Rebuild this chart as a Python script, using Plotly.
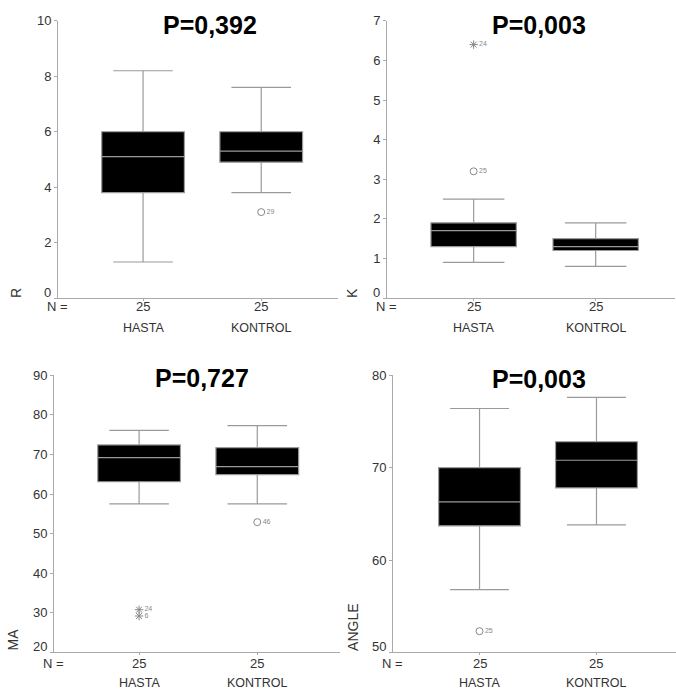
import plotly.graph_objects as go

W, H = 676, 695

groups = ["HASTA", "KONTROL"]
n_counts = [25, 25]

# R
r_lo = [1.3, 3.8]
r_q1 = [3.8, 4.9]
r_med = [5.1, 5.3]
r_q3 = [6.0, 6.0]
r_hi = [8.2, 7.6]
r_out_g = [1]
r_out_y = [3.1]
r_out_lab = ["29"]

# K
k_lo = [0.9, 0.8]
k_q1 = [1.3, 1.2]
k_med = [1.7, 1.3]
k_q3 = [1.9, 1.5]
k_hi = [2.5, 1.9]
k_out_g = [0, 0]
k_out_y = [3.2, 6.4]
k_out_lab = ["25", "24"]

# MA
ma_lo = [57.5, 57.5]
ma_q1 = [63.1, 64.9]
ma_med = [69.2, 66.9]
ma_q3 = [72.4, 71.7]
ma_hi = [76.1, 77.3]
ma_out_g = [0, 0, 1]
ma_out_y = [30.8, 29.2, 52.9]
ma_out_lab = ["24", "6", "46"]

# ANGLE
an_lo = [56.8, 63.8]
an_q1 = [63.7, 67.8]
an_med = [66.3, 70.8]
an_q3 = [70.0, 72.8]
an_hi = [76.4, 77.6]
an_out_g = [0]
an_out_y = [52.3]
an_out_lab = ["25"]

titles = ["P=0,392", "P=0,003", "P=0,727", "P=0,003"]
ylabels = ["R", "K", "MA", "ANGLE"]

# y-axis tick values for each panel
r_ticks = [0, 2, 4, 6, 8, 10]
k_ticks = [0, 1, 2, 3, 4, 5, 6, 7]
ma_ticks = [20, 30, 40, 50, 60, 70, 80, 90]
an_ticks = [50, 60, 70, 80]

panels = [
    (r_lo, r_q1, r_med, r_q3, r_hi, r_out_g, r_out_y, r_out_lab, r_ticks),
    (k_lo, k_q1, k_med, k_q3, k_hi, k_out_g, k_out_y, k_out_lab, k_ticks),
    (ma_lo, ma_q1, ma_med, ma_q3, ma_hi, ma_out_g, ma_out_y, ma_out_lab, ma_ticks),
    (an_lo, an_q1, an_med, an_q3, an_hi, an_out_g, an_out_y, an_out_lab, an_ticks),
]

# layout geometry (pixels): left, right, top, bottom of each plot area
geo = [(58, 338, 14, 294), (387, 675, 14, 294), (54, 340, 372, 652), (393, 676, 372, 652)]
xranges = [(-0.72, 1.65), (-0.71, 1.65), (-0.72, 1.70), (-0.74, 1.68)]
title_pos = [(210, 18), (539, 18), (202, 375), (539, 376)]
ylab_pos = [(16, 296), (352, 296), (13, 652), (353, 652)]
nlab_pos = [(57, 303), (386, 303), (53, 663), (392, 663)]
n_y = [303, 303, 663, 663]
cat_y = [324, 324, 683, 683]
out_symbols = [["circle-open"], ["circle-open", "asterisk-open"],
               ["asterisk-open", "asterisk-open", "circle-open"], ["circle-open"]]

FONT = "Liberation Sans, Arial, sans-serif"
GRAY = "#9a9a9a"
TXT = "#333333"

def px_x(v):
    return v / W

def px_y(v):
    return 1 - v / H

fig = go.Figure()
annotations = []
xs = [0, 1]

for i, (lo, q1, med, q3, hi, og, oy, olab, yt) in enumerate(panels):
    ax = "" if i == 0 else str(i + 1)
    xref = "x" + ax
    yref = "y" + ax
    fig.add_trace(go.Box(
        x=xs, lowerfence=lo, q1=q1, median=med, q3=q3, upperfence=hi,
        xaxis=xref, yaxis=yref, width=0.70, whiskerwidth=0.72,
        fillcolor="black", line=dict(color=GRAY, width=1.2),
        showlegend=False, hoverinfo="skip",
    ))
    fig.add_trace(go.Scatter(
        x=og, y=oy, mode="markers+text", text=olab, textposition="middle right",
        textfont=dict(size=7, color="#888", family=FONT),
        marker=dict(symbol=out_symbols[i], size=7, color="#888", line=dict(width=1, color="#888")),
        xaxis=xref, yaxis=yref, showlegend=False, hoverinfo="skip", cliponaxis=False,
    ))
    l, r, t, b = geo[i]
    xa = dict(domain=[px_x(l), px_x(r)], range=list(xranges[i]), tickvals=xs,
              ticktext=["", ""], showgrid=False, zeroline=False,
              showline=True, linecolor="#aaaaaa", linewidth=1, ticks="outside",
              ticklen=2, tickcolor="#aaaaaa", anchor=yref, fixedrange=True)
    # bottom tick label is drawn slightly raised (as in the original), so blank it here
    ttext = [""] + [str(v) for v in yt[1:]]
    ya = dict(domain=[px_y(b), px_y(t)], range=[yt[0], yt[-1]], tickvals=yt, ticktext=ttext,
              showgrid=False, zeroline=False, showline=True, linecolor="#aaaaaa",
              linewidth=1, ticks="outside", ticklen=3, tickcolor="#aaaaaa",
              tickfont=dict(size=13, color=TXT, family=FONT), anchor=xref,
              fixedrange=True)
    fig.layout["xaxis" + ax] = xa
    fig.layout["yaxis" + ax] = ya

    annotations.append(dict(text=str(yt[0]), x=px_x(l - 5), y=px_y(b - 6), xref="paper",
                            yref="paper", showarrow=False, xanchor="right", yanchor="middle",
                            font=dict(size=13, color=TXT, family=FONT)))

    tx, ty = title_pos[i]
    annotations.append(dict(text="<b>" + titles[i] + "</b>", x=px_x(tx), y=px_y(ty),
                            xref="paper", yref="paper", showarrow=False,
                            font=dict(size=25, color="black", family=FONT),
                            xanchor="center", yanchor="middle"))
    lx, ly = ylab_pos[i]
    annotations.append(dict(text=ylabels[i], x=px_x(lx), y=px_y(ly), xref="paper", yref="paper",
                            showarrow=False, textangle=-90,
                            font=dict(size=14, color=TXT, family=FONT),
                            xanchor="center", yanchor="bottom"))
    nx, ny = nlab_pos[i]
    annotations.append(dict(text="N =", x=px_x(nx), y=px_y(ny), xref="paper", yref="paper",
                            showarrow=False, font=dict(size=13, color=TXT, family=FONT),
                            xanchor="center", yanchor="middle"))
    for g, name, n in zip(xs, groups, n_counts):
        annotations.append(dict(text=str(n), x=g, y=px_y(n_y[i]), xref=xref, yref="paper",
                                showarrow=False, font=dict(size=13, color=TXT, family=FONT),
                                xanchor="center", yanchor="middle"))
        annotations.append(dict(text=name, x=g, y=px_y(cat_y[i]), xref=xref, yref="paper",
                                showarrow=False, font=dict(size=12.5, color=TXT, family=FONT),
                                xanchor="center", yanchor="middle"))

fig.update_layout(width=W, height=H, margin=dict(l=0, r=0, t=0, b=0),
                  paper_bgcolor="white", plot_bgcolor="white",
                  annotations=annotations, showlegend=False)

fig.write_html("out.html", config={"displayModeBar": False},
               post_script="document.body.style.margin='0px';document.body.style.overflow='hidden';")
